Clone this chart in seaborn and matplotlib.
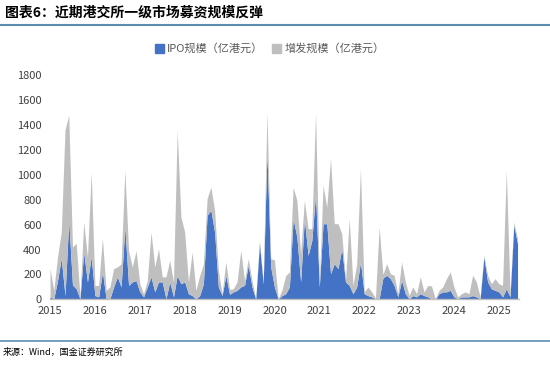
import numpy as np
import pandas as pd
import seaborn as sns
import matplotlib.pyplot as plt
from matplotlib.lines import Line2D
from matplotlib.patches import Patch

# 月度数据：2015-01 至 2025-06（亿港元）
months = pd.date_range("2015-01", "2025-06", freq="MS")

ipo = [20, 5, 150, 330, 30, 635, 115, 85, 5, 380, 140, 340,
       30, 20, 220, 5, 5, 100, 180, 100, 580, 112, 140, 150,
       60, 20, 100, 180, 60, 140, 140, 5, 140, 20, 190, 125,
       140, 45, 30, 5, 30, 125, 675, 715, 540, 100, 30, 190,
       40, 60, 72, 100, 112, 273, 100, 0, 447, 125, 1170, 260,
       100, 0, 30, 45, 100, 647, 500, 140, 647, 353, 473, 848,
       100, 607, 607, 206, 286, 246, 407, 140, 112, 45, 100, 300,
       45, 30, 20, 5, 5, 170, 193, 166, 112, 20, 152, 45,
       5, 30, 20, 45, 30, 20, 5, 0, 45, 60, 60, 72,
       20, 5, 20, 20, 20, 30, 20, 5, 340, 140, 85, 72,
       60, 20, 85, 20, 594, 447]

total = [246, 72, 340, 540, 1360, 1480, 420, 450, 20, 620, 340, 1020,
         112, 112, 490, 72, 100, 246, 260, 286, 1035, 390, 260, 390,
         125, 45, 150, 540, 260, 405, 180, 180, 313, 140, 1356, 660,
         540, 140, 380, 72, 190, 286, 810, 900, 715, 233, 45, 300,
         80, 85, 140, 393, 150, 326, 150, 5, 473, 140, 1500, 326,
         318, 5, 72, 190, 220, 900, 795, 366, 795, 567, 567, 1500,
         130, 915, 740, 1130, 607, 607, 527, 152, 647, 112, 286, 1050,
         60, 100, 60, 10, 580, 200, 286, 206, 193, 45, 300, 140,
         32, 100, 45, 180, 60, 112, 107, 5, 72, 100, 166, 220,
         100, 20, 45, 60, 45, 193, 140, 20, 353, 193, 125, 166,
         125, 112, 1035, 45, 620, 487]

placement = [t - i for t, i in zip(total, ipo)]

df = pd.DataFrame({"month": months, "IPO规模（亿港元）": ipo, "增发规模（亿港元）": placement})
x = np.arange(len(df))

sns.set_theme(style="white")
plt.rcParams["font.family"] = ["Noto Sans CJK SC", "DejaVu Sans"]

fig = plt.figure(figsize=(5.5, 3.7), dpi=100)
ax = fig.add_axes([0.091, 0.191, 0.852, 0.606])

blue = "#4472C4"
grey = "#BFBFBF"
ax.stackplot(x, df["IPO规模（亿港元）"], df["增发规模（亿港元）"],
             colors=[blue, grey], linewidth=0)

ax.set_xlim(0, len(df) - 1 + 0.3)
ax.set_ylim(0, 1800)
ax.set_yticks(range(0, 1801, 200))
years = list(range(2015, 2026))
ax.set_xticks([12 * k for k in range(len(years))])
ax.set_xticklabels([str(y) for y in years])

for s in ["top", "right", "left"]:
    ax.spines[s].set_visible(False)
ax.spines["bottom"].set_color("#BFBFBF")
ax.spines["bottom"].set_linewidth(1)
ax.tick_params(axis="x", direction="out", length=3, color="#BFBFBF",
               labelsize=8, labelcolor="#404040", pad=2)
ax.tick_params(axis="y", length=0, labelsize=8, labelcolor="#404040", pad=6)

handles = [Patch(color=blue), Patch(color=grey)]
leg = fig.legend(handles, ["IPO规模（亿港元）", "增发规模（亿港元）"],
                 loc="center", bbox_to_anchor=(0.49, 0.868), ncol=2, frameon=False,
                 fontsize=8, handlelength=0.8, handleheight=0.8,
                 columnspacing=0.8, handletextpad=0.3)
for t in leg.get_texts():
    t.set_color("#595959")

fig.text(0.01, 0.965, "图表6：近期港交所一级市场募资规模反弹", fontsize=10,
         fontweight="bold", style="italic", va="center", ha="left", color="#000000")
fig.add_artist(Line2D([0, 1], [0.933, 0.933], color="#5B8DB0", linewidth=1.5))
fig.add_artist(Line2D([0, 1], [0.078, 0.078], color="#5B8DB0", linewidth=1.2))
fig.text(0.005, 0.048, "来源：Wind，国金证券研究所", fontsize=6.5,
         va="center", ha="left", color="#000000")

fig.savefig("out.png", dpi=100)
